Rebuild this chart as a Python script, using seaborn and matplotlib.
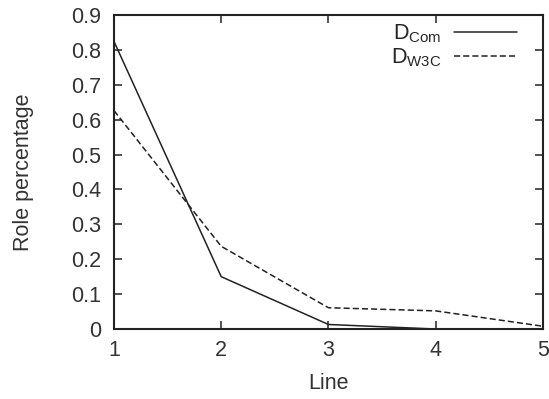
import matplotlib
matplotlib.use('Agg')
import matplotlib.pyplot as plt
import seaborn as sns
import pandas as pd

# donnees
lines = [1, 2, 3, 4, 5]
d_com = [0.824, 0.150, 0.013, 0.0, 0.0]
d_w3c = [0.626, 0.237, 0.061, 0.052, 0.008]
series = [r'D$_{\mathrm{Com}}$', r'D$_{\mathrm{W3C}}$']

df = pd.DataFrame({
    "Line": lines * 2,
    "val": d_com + d_w3c,
    "serie": [series[0]] * len(lines) + [series[1]] * len(lines),
})

sns.set_style("ticks")
plt.rcParams['font.family'] = ['Liberation Sans', 'DejaVu Sans']
plt.rcParams['mathtext.fontset'] = 'custom'
plt.rcParams['mathtext.rm'] = 'Liberation Sans'

fs = 15.5
fig = plt.figure(figsize=(5.49, 3.99), dpi=100)
ax = fig.add_axes([0.2077, 0.1754, 0.781, 0.787])
sns.lineplot(data=df, x="Line", y="val", hue="serie", style="serie",
             palette={series[0]: "#222222", series[1]: "#222222"},
             dashes={series[0]: "", series[1]: (4, 2)},
             linewidth=1.1, ax=ax)

ax.set_xlim(1, 5)
ax.set_ylim(0, 0.9)
ax.set_xticks([1, 2, 3, 4, 5])
ax.set_yticks([i / 10 for i in range(10)])
ax.set_yticklabels(["0"] + [f"{i/10:.1f}" for i in range(1, 10)])
ax.tick_params(direction="in", top=True, right=True, labelsize=fs, length=6, width=1.1,
               colors="#222222", labelcolor="#333333")
ax.tick_params(axis="x", pad=8)
ax.tick_params(axis="y", pad=9)
for s in ax.spines.values():
    s.set_linewidth(1.5)
    s.set_color("#222222")
ax.set_xlabel("Line", fontsize=fs, color="#333333")
ax.set_ylabel("Role percentage", fontsize=fs, color="#333333")
ax.xaxis.set_label_coords(0.5, (329 - 383) / 314)
ax.xaxis.label.set_va("center")
ax.yaxis.set_label_coords((23 - 114) / 429, 0.5)
ax.yaxis.label.set_va("center")

ax.legend(title=None, loc="upper right", bbox_to_anchor=((517 - 114) / 429, 0.975),
          frameon=False, markerfirst=False, fontsize=fs, handlelength=2.9,
          handletextpad=0.6, labelspacing=0.05, borderpad=0, borderaxespad=0)

plt.savefig("out.png", dpi=100)
plt.close()
